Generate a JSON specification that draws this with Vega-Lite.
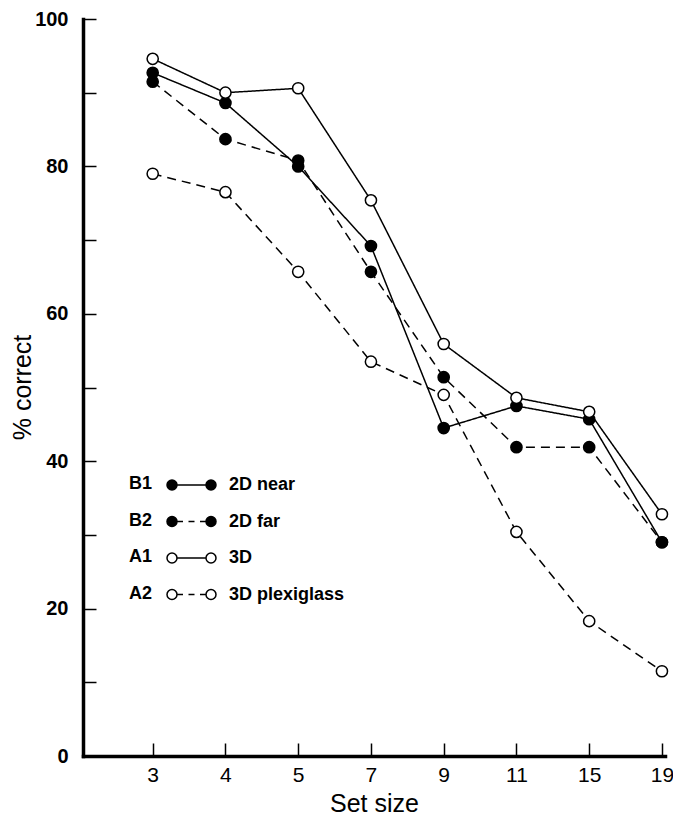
{
  "$schema": "https://vega.github.io/schema/vega-lite/v6.json",
  "width": 582,
  "height": 737,
  "autosize": {"type": "none"},
  "padding": {"left": 83, "top": 19, "right": 8, "bottom": 64},
  "background": "white",
  "config": {"view": {"stroke": null}, "font": "Liberation Sans"},
  "data": {
    "values": [
      {"set": 3, "code": "B1", "name": "2D near", "pct": 92.7},
      {"set": 4, "code": "B1", "name": "2D near", "pct": 88.6},
      {"set": 5, "code": "B1", "name": "2D near", "pct": 80.0},
      {"set": 7, "code": "B1", "name": "2D near", "pct": 69.2},
      {"set": 9, "code": "B1", "name": "2D near", "pct": 44.5},
      {"set": 11, "code": "B1", "name": "2D near", "pct": 47.5},
      {"set": 15, "code": "B1", "name": "2D near", "pct": 45.7},
      {"set": 19, "code": "B1", "name": "2D near", "pct": 29.0},
      {"set": 3, "code": "B2", "name": "2D far", "pct": 91.5},
      {"set": 4, "code": "B2", "name": "2D far", "pct": 83.7},
      {"set": 5, "code": "B2", "name": "2D far", "pct": 80.8},
      {"set": 7, "code": "B2", "name": "2D far", "pct": 65.7},
      {"set": 9, "code": "B2", "name": "2D far", "pct": 51.4},
      {"set": 11, "code": "B2", "name": "2D far", "pct": 41.9},
      {"set": 15, "code": "B2", "name": "2D far", "pct": 41.9},
      {"set": 19, "code": "B2", "name": "2D far", "pct": 29.0},
      {"set": 3, "code": "A1", "name": "3D", "pct": 94.6},
      {"set": 4, "code": "A1", "name": "3D", "pct": 90.0},
      {"set": 5, "code": "A1", "name": "3D", "pct": 90.6},
      {"set": 7, "code": "A1", "name": "3D", "pct": 75.4},
      {"set": 9, "code": "A1", "name": "3D", "pct": 55.9},
      {"set": 11, "code": "A1", "name": "3D", "pct": 48.6},
      {"set": 15, "code": "A1", "name": "3D", "pct": 46.7},
      {"set": 19, "code": "A1", "name": "3D", "pct": 32.8},
      {"set": 3, "code": "A2", "name": "3D plexiglass", "pct": 79.0},
      {"set": 4, "code": "A2", "name": "3D plexiglass", "pct": 76.5},
      {"set": 5, "code": "A2", "name": "3D plexiglass", "pct": 65.7},
      {"set": 7, "code": "A2", "name": "3D plexiglass", "pct": 53.5},
      {"set": 9, "code": "A2", "name": "3D plexiglass", "pct": 49.0},
      {"set": 11, "code": "A2", "name": "3D plexiglass", "pct": 30.4},
      {"set": 15, "code": "A2", "name": "3D plexiglass", "pct": 18.3},
      {"set": 19, "code": "A2", "name": "3D plexiglass", "pct": 11.5}
    ]
  },
  "encoding": {
    "x": {
      "field": "set",
      "type": "ordinal",
      "scale": {"type": "point", "domain": [3, 4, 5, 7, 9, 11, 15, 19], "padding": 0.5, "align": 0.958},
      "axis": {
        "title": "Set size",
        "labelAngle": 0,
        "labelFont": "Liberation Sans Narrow, Liberation Sans",
        "labelFontSize": 21,
        "labelColor": "black",
        "labelPadding": 21,
        "tickSize": -13,
        "tickWidth": 1.5,
        "tickColor": "black",
        "domainColor": "black",
        "domainWidth": 3.5,
        "domainCap": "square",
        "grid": false,
        "titleFont": "Liberation Sans",
        "titleFontSize": 25,
        "titleFontWeight": "normal",
        "titleColor": "black",
        "titleX": 291,
        "titleY": 47,
        "titleBaseline": "middle",
        "titleAlign": "center"
      }
    },
    "y": {
      "field": "pct",
      "type": "quantitative",
      "scale": {"domain": [0, 100], "nice": false, "zero": true},
      "axis": {
        "title": "% correct",
        "values": [0, 10, 20, 30, 40, 50, 60, 70, 80, 90, 100],
        "labelExpr": "datum.value % 20 === 0 ? datum.label : ''",
        "labelFont": "Liberation Sans",
        "labelFontWeight": "bold",
        "labelFontSize": 20,
        "labelColor": "black",
        "labelPadding": 28,
        "tickSize": -13,
        "tickWidth": 1.5,
        "tickColor": "black",
        "domainColor": "black",
        "domainWidth": 3.5,
        "domainCap": "square",
        "grid": false,
        "titleFont": "Liberation Sans",
        "titleFontSize": 25,
        "titleFontWeight": "normal",
        "titleColor": "black",
        "titleAngle": -90,
        "titleX": -61,
        "titleY": 368,
        "titleAlign": "center",
        "titleBaseline": "middle"
      }
    }
  },
  "layer": [
    {
      "mark": {"type": "line", "color": "black", "strokeWidth": 1.5},
      "encoding": {
        "strokeDash": {
          "field": "code",
          "type": "nominal",
          "scale": {"domain": ["B1", "B2", "A1", "A2"], "range": [[1, 0], [9, 6], [1, 0], [9, 6]]},
          "legend": {
            "orient": "none",
            "legendX": 28,
            "legendY": 456,
            "title": null,
            "padding": 0,
            "symbolSize": 0,
            "symbolOpacity": 0,
            "symbolStrokeWidth": 0,
            "labelOffset": 0,
            "labelFont": "Liberation Sans",
            "labelFontWeight": "bold",
            "labelFontSize": 18,
            "labelColor": "black",
            "rowPadding": 18.5
          }
        }
      }
    },
    {
      "mark": {"type": "point", "filled": true, "shape": "circle", "size": 125, "stroke": "black", "strokeWidth": 1.5, "opacity": 1},
      "encoding": {
        "fill": {
          "field": "name",
          "type": "nominal",
          "scale": {"domain": ["2D near", "2D far", "3D", "3D plexiglass"], "range": ["black", "black", "white", "white"]},
          "legend": {
            "orient": "none",
            "legendX": 97.5,
            "legendY": 455,
            "title": null,
            "padding": 0,
            "symbolSize": 400,
            "symbolStrokeColor": "black",
            "symbolStrokeWidth": 1.5,
            "symbolOpacity": 1,
            "labelOffset": 26.5,
            "labelFont": "Liberation Sans",
            "labelFontWeight": "bold",
            "labelFontSize": 18,
            "labelColor": "black",
            "rowPadding": 16.5,
            "encode": {
              "symbols": {
                "update": {
                  "shape": {"signal": "datum.value === '2D near' || datum.value === '3D' ? 'M -2.45 0 A 0.5 0.5 0 1 0 -1.45 0 A 0.5 0.5 0 1 0 -2.45 0 Z M -1.45 0 L 1.45 0 M 1.45 0 A 0.5 0.5 0 1 0 2.45 0 A 0.5 0.5 0 1 0 1.45 0 Z' : 'M -2.45 0 A 0.5 0.5 0 1 0 -1.45 0 A 0.5 0.5 0 1 0 -2.45 0 Z M -1.45 0 L -0.85 0 M -0.3 0 L 0.3 0 M 0.85 0 L 1.45 0 M 1.45 0 A 0.5 0.5 0 1 0 2.45 0 A 0.5 0.5 0 1 0 1.45 0 Z'"}
                }
              }
            }
          }
        }
      }
    }
  ]
}
